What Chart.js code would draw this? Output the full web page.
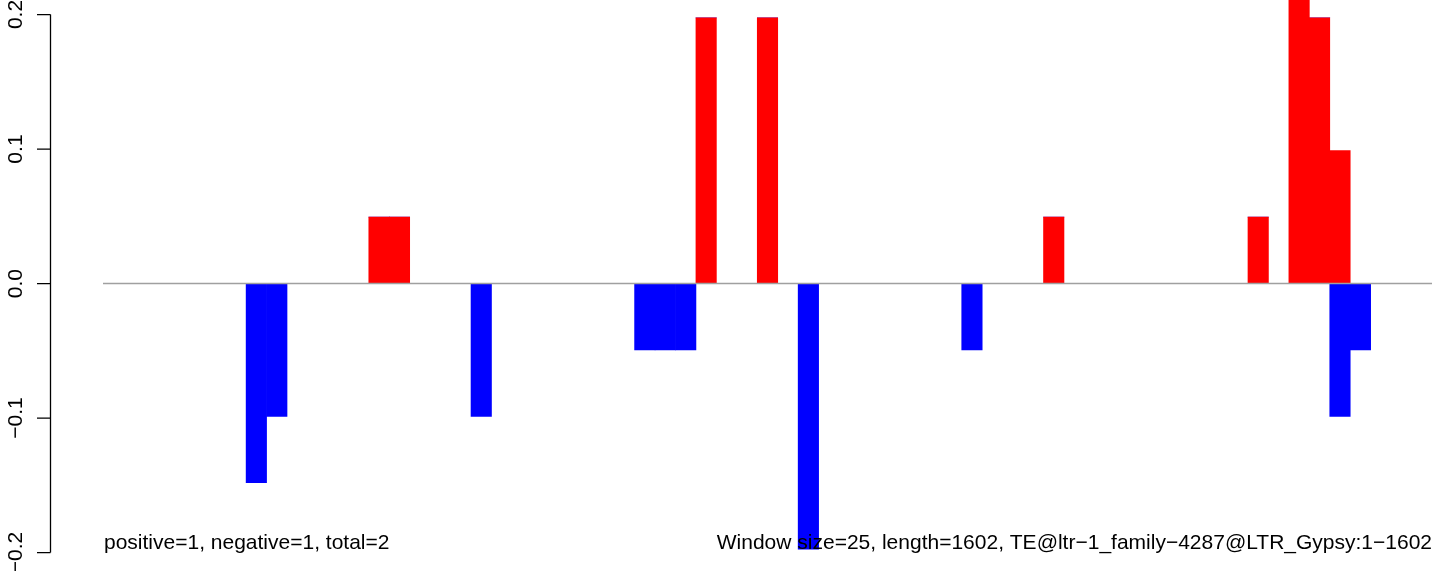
<!DOCTYPE html>
<html>
<head>
<meta charset="utf-8">
<script src="https://cdn.jsdelivr.net/npm/chart.js@4/dist/chart.umd.min.js"></script>
<style>
  body { margin: 0; background: #fff; }
  canvas { display: block; }
</style>
</head>
<body>
<canvas id="windowChart" width="1444" height="571"></canvas>
<script>
// window start positions (window size 25, length 1602)
const windowStarts = [];
for (let s = 1; s <= 1602; s += 25) windowStarts.push(s);

// one value per window
const positiveValues = [
  0, 0, 0, 0, 0, 0, 0, 0, 0, 0,
  0, 0, 0, 0.0494, 0.0494, 0, 0, 0, 0, 0,
  0, 0, 0, 0, 0, 0, 0, 0, 0, 0.1975,
  0, 0, 0.1975, 0, 0, 0, 0, 0, 0, 0,
  0, 0, 0, 0, 0, 0, 0.0494, 0, 0, 0,
  0, 0, 0, 0, 0, 0, 0.0494, 0, 0.247, 0.1975,
  0.0988, 0, 0, 0, 0
];
const negativeValues = [
  0, 0, 0, 0, 0, 0, 0, -0.148, -0.0988, 0,
  0, 0, 0, 0, 0, 0, 0, 0, -0.0988, 0,
  0, 0, 0, 0, 0, 0, -0.0494, -0.0494, -0.0494, 0,
  0, 0, 0, 0, -0.1975, 0, 0, 0, 0, 0,
  0, 0, -0.0494, 0, 0, 0, 0, 0, 0, 0,
  0, 0, 0, 0, 0, 0, 0, 0, 0, 0,
  -0.0988, -0.0494, 0, 0, 0
];
const yTicks = [-0.2, -0.1, 0.0, 0.1, 0.2];
const yTickLabels = ['\u22120.2', '\u22120.1', '0.0', '0.1', '0.2'];
const leftNote = 'positive=1, negative=1, total=2';
const rightNote = 'Window size=25, length=1602, TE@ltr\u22121_family\u22124287@LTR_Gypsy:1\u22121602';

const font = '21px "Liberation Sans", Arial, sans-serif';

// R style axis, zero line and notes
const rDecor = {
  id: 'rDecor',
  afterDatasetsDraw(chart) {
    const ctx = chart.ctx;
    const y = chart.scales.y;
    const area = chart.chartArea;
    ctx.save();

    // zero line
    ctx.strokeStyle = '#a0a0a0';
    ctx.lineWidth = 1.5;
    ctx.beginPath();
    ctx.moveTo(area.left, y.getPixelForValue(0));
    ctx.lineTo(area.right, y.getPixelForValue(0));
    ctx.stroke();

    // y axis
    const axisX = 50.5;
    ctx.strokeStyle = '#000';
    ctx.lineWidth = 1.3;
    ctx.beginPath();
    ctx.moveTo(axisX, y.getPixelForValue(yTicks[0]));
    ctx.lineTo(axisX, y.getPixelForValue(yTicks[yTicks.length - 1]));
    yTicks.forEach(v => {
      ctx.moveTo(axisX, y.getPixelForValue(v));
      ctx.lineTo(axisX - 13.5, y.getPixelForValue(v));
    });
    ctx.stroke();

    ctx.fillStyle = '#000';
    ctx.font = font;
    yTicks.forEach((v, i) => {
      ctx.save();
      ctx.translate(21.5, y.getPixelForValue(v));
      ctx.rotate(-Math.PI / 2);
      ctx.textAlign = 'center';
      ctx.textBaseline = 'alphabetic';
      ctx.fillText(yTickLabels[i], 0, 0);
      ctx.restore();
    });

    // notes
    ctx.textBaseline = 'alphabetic';
    ctx.textAlign = 'left';
    ctx.fillText(leftNote, area.left + 1, 549);
    ctx.textAlign = 'right';
    ctx.fillText(rightNote, area.right, 549);
    ctx.restore();
  }
};

new Chart(document.getElementById('windowChart'), {
  type: 'bar',
  data: {
    labels: windowStarts,
    datasets: [
      { label: 'positive', data: positiveValues, backgroundColor: '#ff0000', borderWidth: 0 },
      { label: 'negative', data: negativeValues, backgroundColor: '#0000ff', borderWidth: 0 }
    ]
  },
  options: {
    responsive: false,
    animation: false,
    events: [],
    layout: { padding: { left: 103, right: 12, top: 0, bottom: 0 } },
    datasets: { bar: { barPercentage: 1, categoryPercentage: 1 } },
    scales: {
      x: { display: false, stacked: true },
      y: { display: false, stacked: true, min: -0.2137, max: 0.2108 }
    },
    plugins: {
      legend: { display: false },
      tooltip: { enabled: false }
    }
  },
  plugins: [rDecor]
});
</script>
</body>
</html>
